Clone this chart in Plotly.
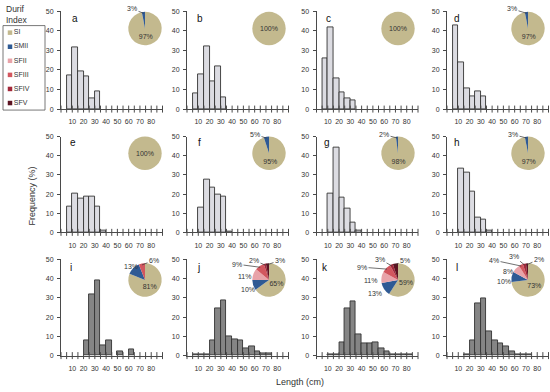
import math
import plotly.graph_objects as go

# ---------------- data ----------------
PANELS = list("abcdefghijkl")
CATEGORIES = ["SI", "SMII", "SFII", "SFIII", "SFIV", "SFV"]
BIN_LOWER = list(range(0, 90, 5))          # 5-cm length classes 0-5 ... 85-90
X_TICK_LABELS = [10, 20, 30, 40, 50, 60, 70, 80]
X_MINOR_TICKS = list(range(0, 95, 5))
Y_TICKS = [0, 10, 20, 30, 40, 50]

FREQ_A = [0, 17.5, 31.5, 19.5, 16.5, 5.3, 9.3, 0, 0, 0, 0, 0, 0, 0, 0, 0, 0, 0]
FREQ_B = [0, 8, 18, 32, 14, 22, 6, 0, 0, 0, 0, 0, 0, 0, 0, 0, 0, 0]
FREQ_C = [0, 26, 42, 15.5, 8.5, 5.5, 4.5, 0, 0, 0, 0, 0, 0, 0, 0, 0, 0, 0]
FREQ_D = [0, 43, 24, 10.5, 6.5, 9, 6.5, 0, 0, 0, 0, 0, 0, 0, 0, 0, 0, 0]
FREQ_E = [0, 13.5, 20.5, 17.5, 18.5, 18.5, 13.5, 1, 0, 0, 0, 0, 0, 0, 0, 0, 0, 0]
FREQ_F = [0, 0, 12.8, 27.5, 23.5, 19.5, 18.5, 0.5, 0, 0, 0, 0, 0, 0, 0, 0, 0, 0]
FREQ_G = [0, 0, 20, 44.5, 18.3, 12.3, 5.1, 0.7, 0, 0, 0, 0, 0, 0, 0, 0, 0, 0]
FREQ_H = [0, 0, 33.3, 31, 21.3, 7.5, 6.8, 0.8, 0, 0, 0, 0, 0, 0, 0, 0, 0, 0]
FREQ_I = [0, 0, 0, 0, 8, 32, 39, 5.5, 8, 0, 2, 0, 3, 0, 0, 0, 0, 0]
FREQ_J = [0, 0.5, 0.5, 0.5, 8, 24.5, 28.5, 10, 8.2, 7.8, 4, 4.6, 2, 1, 1.1, 0, 0, 0]
FREQ_K = [0, 0, 0.5, 0.5, 7, 24.5, 28.2, 11, 6.5, 6.5, 7, 4, 2.2, 0.9, 0.9, 0.6, 0.5, 0]
FREQ_L = [0, 0, 0, 0.4, 8, 27.3, 30, 12.4, 7.7, 6.5, 4.8, 2.2, 0.9, 0.9, 0.5, 0, 0, 0]

# Durif index composition (%) in order SI, SMII, SFII, SFIII, SFIV, SFV
PIE_A = [97, 3, 0, 0, 0, 0]
PIE_B = [100, 0, 0, 0, 0, 0]
PIE_C = [100, 0, 0, 0, 0, 0]
PIE_D = [97, 3, 0, 0, 0, 0]
PIE_E = [100, 0, 0, 0, 0, 0]
PIE_F = [95, 5, 0, 0, 0, 0]
PIE_G = [98, 2, 0, 0, 0, 0]
PIE_H = [97, 3, 0, 0, 0, 0]
PIE_I = [81, 13, 0, 6, 0, 0]
PIE_J = [65, 10, 11, 9, 2, 3]
PIE_K = [59, 13, 11, 9, 3, 5]
PIE_L = [73, 10, 8, 4, 3, 2]

FREQ = dict(zip(PANELS, [FREQ_A, FREQ_B, FREQ_C, FREQ_D, FREQ_E, FREQ_F,
                         FREQ_G, FREQ_H, FREQ_I, FREQ_J, FREQ_K, FREQ_L]))
PIE = dict(zip(PANELS, [PIE_A, PIE_B, PIE_C, PIE_D, PIE_E, PIE_F,
                        PIE_G, PIE_H, PIE_I, PIE_J, PIE_K, PIE_L]))

# ---------------- styling / layout ----------------
W, H = 550, 392
FONT = "Liberation Sans, Arial, sans-serif"
AX = "#4a4a4a"
TXT = "#333333"
CAT_COLORS = ["#c3b98e", "#2f5a94", "#e8a3a9", "#d2565e", "#a3283a", "#5c1322"]
BAR_LIGHT = "#dcdce2"
BAR_DARK = "#858585"

COL_X0 = [61, 187, 316.5, 447]
PLOT_W = 101.5
ROW_Y = [(7.5, 107), (135, 232.5), (260, 358)]
PIE_CX = [145, 269, 398, 528]
PIE_CY = [25, 152, 281]
PIE_R = 17
LETTER_POS = [(75, 15), (200, 15), (328, 15), (457, 15),
              (73, 141), (199, 141), (327, 141), (457, 141),
              (71, 268), (198, 268), (325, 268), (457, 268)]

# outside pie-label positions (px): (x, y, leader line?)
PIE_LABEL_POS = {
    "a": {"SMII": (132, 5, True)},
    "d": {"SMII": (512, 5, True)},
    "f": {"SMII": (255, 133, True)},
    "g": {"SMII": (384, 133, True)},
    "h": {"SMII": (513, 133, True)},
    "i": {"SMII": (131, 267, False), "SFIII": (154, 261, True)},
    "j": {"SMII": (248, 291, False), "SFII": (245, 277, False), "SFIII": (237, 265, True),
          "SFIV": (254, 261, True), "SFV": (280, 261, True)},
    "k": {"SMII": (375, 295, False), "SFII": (371, 282, False), "SFIII": (362, 268, True),
          "SFIV": (380, 260, True), "SFV": (405, 261, True)},
    "l": {"SMII": (504, 283, False), "SFII": (508, 272, False), "SFIII": (494, 261, True),
          "SFIV": (514, 257, True), "SFV": (539, 260, True)},
}


def ann(x, y, text, size, **kw):
    d = dict(x=x / W, y=1 - y / H, xref="paper", yref="paper", text=text,
             showarrow=False, xanchor="center", yanchor="middle",
             font=dict(size=size, color=kw.pop("color", TXT), family=FONT))
    d.update(kw)
    return d


fig = go.Figure()
layout = {}
annotations = []
centers = [b + 2.5 for b in BIN_LOWER]

for idx, p in enumerate(PANELS):
    r, c = divmod(idx, 4)
    n = idx + 1
    xa = "x" if n == 1 else f"x{n}"
    ya = "y" if n == 1 else f"y{n}"
    xkey = "xaxis" if n == 1 else f"xaxis{n}"
    ykey = "yaxis" if n == 1 else f"yaxis{n}"
    x0 = COL_X0[c]
    top, bot = ROW_Y[r]
    layout[xkey] = dict(domain=[x0 / W, (x0 + PLOT_W) / W], range=[0, 90], anchor=ya,
                        showline=True, linecolor=AX, linewidth=1, showgrid=False,
                        zeroline=False, ticks="", tickvals=X_TICK_LABELS,
                        ticklabelstandoff=6,
                        tickfont=dict(size=7, color=TXT, family=FONT))
    layout[ykey] = dict(domain=[1 - bot / H, 1 - top / H], range=[0, 50], anchor=xa,
                        showline=True, linecolor=AX, linewidth=1, showgrid=False,
                        zeroline=False, ticks="outside", ticklen=3, tickcolor=AX,
                        ticklabelstandoff=2,
                        tickvals=Y_TICKS, tickfont=dict(size=7, color=TXT, family=FONT))
    vals = [v if v > 0 else None for v in FREQ[p]]
    fig.add_trace(go.Bar(x=centers, y=vals, width=5, xaxis=xa, yaxis=ya,
                         marker=dict(color=BAR_DARK if r == 2 else BAR_LIGHT,
                                     line=dict(color="#333333", width=0.9)),
                         showlegend=False, hoverinfo="skip"))
    fig.add_trace(go.Scatter(x=X_MINOR_TICKS, y=[0] * len(X_MINOR_TICKS), xaxis=xa, yaxis=ya,
                             mode="markers", cliponaxis=False,
                             marker=dict(symbol="line-ns", size=5,
                                         line=dict(width=1, color=AX)),
                             showlegend=False, hoverinfo="skip"))
    # pie
    cx, cy = PIE_CX[c], PIE_CY[r]
    pv = PIE[p]
    texts = [f"{v}%" if (k == 0 and v > 0) else "" for k, v in enumerate(pv)]
    fig.add_trace(go.Pie(values=pv, labels=CATEGORIES, sort=False, direction="clockwise",
                         rotation=0,
                         domain=dict(x=[(cx - PIE_R) / W, (cx + PIE_R) / W],
                                     y=[1 - (cy + PIE_R) / H, 1 - (cy - PIE_R) / H]),
                         marker=dict(colors=CAT_COLORS, line=dict(width=0)),
                         text=texts, textinfo="text", textposition="inside",
                         insidetextorientation="horizontal",
                         insidetextfont=dict(size=7, color=TXT, family=FONT),
                         showlegend=False, hoverinfo="skip"))
    total = sum(pv)
    for cat, (tx, ty, leader) in PIE_LABEL_POS.get(p, {}).items():
        k = CATEGORIES.index(cat)
        mid = 360 * (sum(pv[:k]) + pv[k] / 2) / total
        axp = cx + 0.92 * PIE_R * math.sin(math.radians(mid))
        ayp = cy - 0.92 * PIE_R * math.cos(math.radians(mid))
        if leader:
            annotations.append(dict(x=axp / W, y=1 - ayp / H, xref="paper", yref="paper",
                                    ax=tx - axp, ay=ty - ayp, text=f"{pv[k]}%",
                                    showarrow=True, arrowhead=0, arrowwidth=0.7,
                                    arrowcolor="#333", standoff=0,
                                    font=dict(size=7, color=TXT, family=FONT)))
        else:
            annotations.append(ann(tx, ty, f"{pv[k]}%", 7))
    lx, ly = LETTER_POS[idx]
    annotations.append(ann(lx, ly, p, 10, color="#111"))

# legend (Durif index) drawn on its own small axes
LEG_BOX = (3, 22, 45, 108)
layout["xaxis13"] = dict(domain=[LEG_BOX[0] / W, LEG_BOX[2] / W], range=[-1.2, 6],
                         visible=False, anchor="y13")
layout["yaxis13"] = dict(domain=[1 - LEG_BOX[3] / H, 1 - LEG_BOX[1] / H],
                         range=[len(CATEGORIES) - 0.5, -0.5], visible=False, anchor="x13")
fig.add_trace(go.Scatter(x=[0] * len(CATEGORIES), y=list(range(len(CATEGORIES))),
                         xaxis="x13", yaxis="y13", mode="markers+text",
                         text=CATEGORIES, textposition="middle right",
                         textfont=dict(size=7, color=TXT, family=FONT),
                         marker=dict(symbol="square", size=4.5, color=CAT_COLORS),
                         cliponaxis=False, showlegend=False, hoverinfo="skip"))
shapes = [dict(type="rect", xref="paper", yref="paper",
               x0=LEG_BOX[0] / W, x1=LEG_BOX[2] / W,
               y0=1 - LEG_BOX[3] / H, y1=1 - LEG_BOX[1] / H,
               line=dict(color="#555", width=0.8))]

annotations += [
    ann(4, 5.5, "Durif", 8.5, xanchor="left"),
    ann(4, 16, "Index", 8.5, xanchor="left"),
    ann(31, 196, "Frequency (%)", 9, textangle=-90),
    ann(300, 385, "Length (cm)", 9),
]

fig.update_layout(**layout)
fig.update_layout(width=W, height=H, margin=dict(l=0, r=0, t=0, b=0),
                  paper_bgcolor="white", plot_bgcolor="rgba(0,0,0,0)",
                  annotations=annotations, shapes=shapes, bargap=0,
                  font=dict(family=FONT, color=TXT))
fig.write_html("out.html", config={"displayModeBar": False},
               post_script="document.body.style.margin='0px';document.body.style.overflow='hidden';")
